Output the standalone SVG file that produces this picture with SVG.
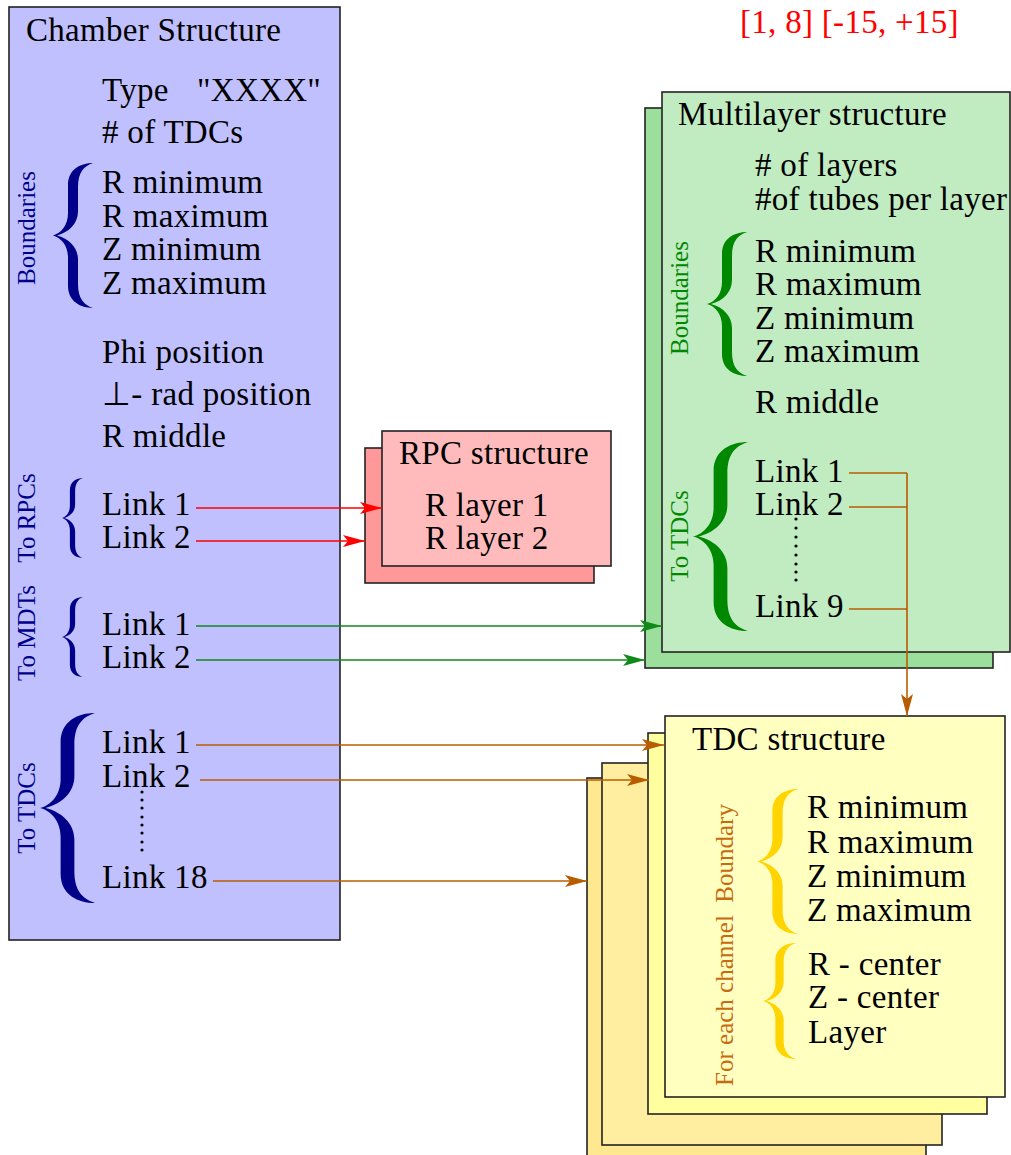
<svg xmlns="http://www.w3.org/2000/svg" width="1011" height="1155" viewBox="0 0 1011 1155">
<style>
text{font-family:"Liberation Serif","Times New Roman",serif;font-size:33px;letter-spacing:0.3px;fill:#000}
.v{font-size:25px;letter-spacing:0}
.box{stroke:#222;stroke-width:1.6}
.navy{fill:#000088}
.grn{fill:#008800}
.gold{fill:#ffd400}
.org{fill:#c86a10}
.ln{fill:none;stroke-width:1.6}
</style>
<defs>
<path id="brace" d="M40,0 C28,0 15,6 15,22 L15,50 C15,62 8,70 0,72 C8,74 15,82 15,94 L15,122 C15,138 28,144 40,144 C31,141 25,135 25,120 L25,96 C25,84 16,75 4,72 C16,69 25,60 25,48 L25,24 C25,9 31,3 40,0 Z"/>
<marker id="aR" markerUnits="userSpaceOnUse" markerWidth="24" markerHeight="14" refX="22" refY="6" orient="auto"><path d="M0,0 L22,6 L0,12 L5,6 Z" fill="#ff0000"/></marker>
<marker id="aG" markerUnits="userSpaceOnUse" markerWidth="24" markerHeight="14" refX="22" refY="6" orient="auto"><path d="M0,0 L22,6 L0,12 L5,6 Z" fill="#11881a"/></marker>
<marker id="aO" markerUnits="userSpaceOnUse" markerWidth="24" markerHeight="14" refX="22" refY="6" orient="auto"><path d="M0,0 L22,6 L0,12 L5,6 Z" fill="#b85c00"/></marker>
</defs>

<g id="range">
<text x="740" y="33" style="fill:#ff0000">[1, 8] [-15, +15]</text>
</g>

<g id="chamber">
<rect class="box" x="9" y="7" width="331" height="933" fill="#c0c0ff"/>
<text x="26" y="41">Chamber Structure</text>
<text x="102" y="101">Type</text>
<text x="197" y="101">"XXXX"</text>
<text x="102" y="143"># of TDCs</text>
<use href="#brace" class="navy" transform="translate(53,163) scale(1,1.007)"/>
<text class="v navy" transform="translate(35,228) rotate(-90)" text-anchor="middle">Boundaries</text>
<text x="102" y="193">R minimum</text>
<text x="102" y="227">R maximum</text>
<text x="102" y="260">Z minimum</text>
<text x="102" y="294">Z maximum</text>
<text x="102" y="363">Phi position</text>
<text x="102" y="405">⊥- rad position</text>
<text x="102" y="447">R middle</text>
<use href="#brace" class="navy" transform="translate(62,478) scale(0.525,0.556)"/>
<text class="v navy" transform="translate(35,518) rotate(-90)" text-anchor="middle">To RPCs</text>
<text x="102" y="515">Link 1</text>
<text x="102" y="548">Link 2</text>
<use href="#brace" class="navy" transform="translate(62,597) scale(0.525,0.556)"/>
<text class="v navy" transform="translate(35,633) rotate(-90)" text-anchor="middle">To MDTs</text>
<text x="102" y="635">Link 1</text>
<text x="102" y="668">Link 2</text>
<use href="#brace" class="navy" transform="translate(40,713) scale(1.375,1.319)"/>
<text class="v navy" transform="translate(35,808) rotate(-90)" text-anchor="middle">To TDCs</text>
<text x="102" y="753">Link 1</text>
<text x="102" y="787">Link 2</text>
<text x="102" y="888">Link 18</text>
<g fill="#000">
<circle cx="142" cy="792" r="1.6"/><circle cx="142" cy="800" r="1.6"/><circle cx="142" cy="808" r="1.6"/><circle cx="142" cy="817" r="1.6"/><circle cx="142" cy="825" r="1.6"/><circle cx="142" cy="833" r="1.6"/><circle cx="142" cy="842" r="1.6"/><circle cx="142" cy="850" r="1.6"/>
</g>
</g>

<g id="rpc">
<rect class="box" x="365" y="448" width="229" height="135" fill="#ff9999"/>
<rect class="box" x="382" y="431" width="229" height="135" fill="#ffbbbb"/>
<text x="399" y="464">RPC structure</text>
<text x="425" y="516">R layer 1</text>
<text x="425" y="549">R layer 2</text>
</g>

<g id="multilayer">
<rect class="box" x="645" y="108" width="348" height="560" fill="#9cdf9c"/>
<rect class="box" x="662" y="92" width="348" height="560" fill="#c1ebc1"/>
<text x="678" y="125">Multilayer structure</text>
<text x="755" y="176"># of layers</text>
<text x="755" y="210">#of tubes per layer</text>
<use href="#brace" class="grn" transform="translate(707,232) scale(1,1)"/>
<text class="v grn" transform="translate(688,298) rotate(-90)" text-anchor="middle">Boundaries</text>
<text x="755" y="262">R minimum</text>
<text x="755" y="295">R maximum</text>
<text x="755" y="329">Z minimum</text>
<text x="755" y="362">Z maximum</text>
<text x="755" y="413">R middle</text>
<use href="#brace" class="grn" transform="translate(693,442) scale(1.375,1.3125)"/>
<text class="v grn" transform="translate(688,536) rotate(-90)" text-anchor="middle">To TDCs</text>
<text x="755" y="482">Link 1</text>
<text x="755" y="515">Link 2</text>
<text x="755" y="617">Link 9</text>
<g fill="#000">
<circle cx="796" cy="519" r="1.6"/><circle cx="796" cy="528" r="1.6"/><circle cx="796" cy="537" r="1.6"/><circle cx="796" cy="546" r="1.6"/><circle cx="796" cy="555" r="1.6"/><circle cx="796" cy="564" r="1.6"/><circle cx="796" cy="572" r="1.6"/><circle cx="796" cy="580" r="1.6"/>
</g>
</g>

<g id="tdc">
<rect class="box" x="587" y="778" width="339" height="400" fill="#ffe890"/>
<rect class="box" x="602" y="763" width="340" height="382" fill="#ffeea0"/>
<rect class="box" x="648" y="733" width="339" height="381" fill="#ffffa0"/>
<rect class="box" x="665" y="716" width="340" height="381" fill="#ffffc0"/>
<text x="692" y="750">TDC structure</text>
<use href="#brace" class="gold" transform="translate(757,789) scale(1.025,1.007)"/>
<use href="#brace" class="gold" transform="translate(763,943) scale(0.825,0.806)"/>
<text class="v org" transform="translate(733,945) rotate(-90)" text-anchor="middle" xml:space="preserve">For each channel  Boundary</text>
<text x="807" y="818">R minimum</text>
<text x="807" y="853">R maximum</text>
<text x="807" y="887">Z minimum</text>
<text x="807" y="921">Z maximum</text>
<text x="808" y="975">R - center</text>
<text x="808" y="1008">Z - center</text>
<text x="808" y="1043">Layer</text>
</g>

<g id="connectors">
<line class="ln" stroke="#ff0000" x1="196" y1="508" x2="382" y2="508" marker-end="url(#aR)"/>
<line class="ln" stroke="#ff0000" x1="196" y1="541" x2="365" y2="541" marker-end="url(#aR)"/>
<line class="ln" stroke="#11881a" x1="196" y1="626" x2="662" y2="626" marker-end="url(#aG)"/>
<line class="ln" stroke="#11881a" x1="196" y1="660" x2="645" y2="660" marker-end="url(#aG)"/>
<line class="ln" stroke="#b85c00" x1="196" y1="745" x2="664" y2="745" marker-end="url(#aO)"/>
<line class="ln" stroke="#b85c00" x1="200" y1="780" x2="649" y2="780" marker-end="url(#aO)"/>
<line class="ln" stroke="#b85c00" x1="213" y1="881" x2="587" y2="881" marker-end="url(#aO)"/>
<polyline class="ln" stroke="#b85c00" points="849,473 907,473"/>
<polyline class="ln" stroke="#b85c00" points="849,507 907,507"/>
<polyline class="ln" stroke="#b85c00" points="849,609 907,609"/>
<line class="ln" stroke="#b85c00" x1="907" y1="473" x2="907" y2="716" marker-end="url(#aO)"/>
</g>
</svg>
